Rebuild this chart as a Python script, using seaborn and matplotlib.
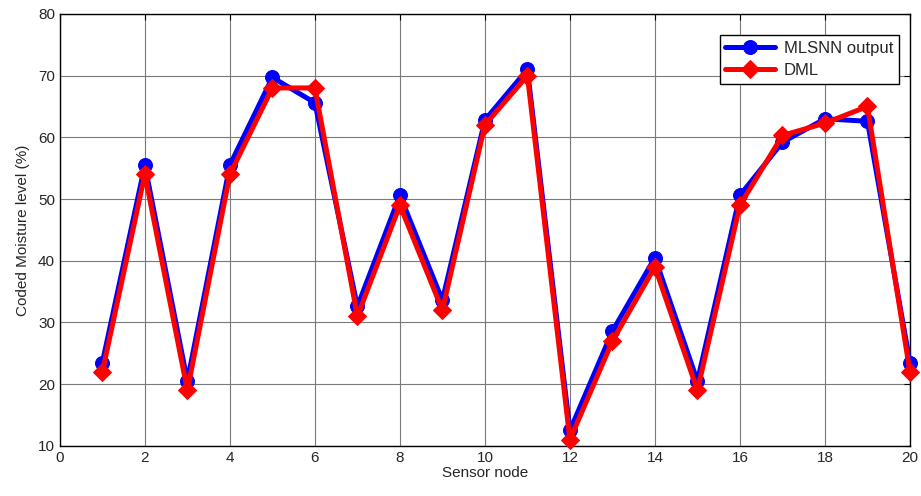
import numpy as np
import pandas as pd
import matplotlib
matplotlib.use("Agg")
import matplotlib.pyplot as plt
import seaborn as sns

nodes = list(range(1, 21))
mlsnn = [23.5, 55.5, 20.5, 55.5, 69.7, 65.6, 32.6, 50.6, 33.6, 62.8,
         71.0, 12.5, 28.6, 40.5, 20.5, 50.6, 59.2, 63.0, 62.6, 23.5]
dml = [22.0, 54.0, 19.0, 54.0, 68.0, 68.0, 31.0, 49.0, 32.0, 62.0,
       70.0, 11.0, 27.0, 39.0, 19.0, 49.0, 60.3, 62.3, 65.0, 22.0]
x_ticks = list(range(0, 21, 2))
y_ticks = list(range(10, 81, 10))

sns.set_style("white")
plt.rcParams['font.family'] = ['Liberation Sans', 'DejaVu Sans']

df = pd.DataFrame({"node": nodes, "MLSNN output": mlsnn, "DML": dml})

fig = plt.figure(figsize=(9.21, 4.96), dpi=100)
ax = fig.add_axes([0.065, 0.101, 0.923, 0.871])

sns.lineplot(data=df, x="node", y="MLSNN output", ax=ax, color="#0000ff",
             linewidth=3.6, marker="o", markersize=10, markeredgecolor="#0000ff",
             label="MLSNN output", clip_on=False, zorder=3)
sns.lineplot(data=df, x="node", y="DML", ax=ax, color="#ff0000",
             linewidth=3.6, marker="D", markersize=9, markeredgecolor="#ff0000",
             label="DML", clip_on=False, zorder=4)

ax.set_xlim(0, 20)
ax.set_ylim(10, 80)
ax.set_xticks(x_ticks)
ax.set_yticks(y_ticks)
ax.grid(True, color="#7a7a7a", linewidth=0.8)
ax.tick_params(direction="in", top=True, right=True, length=4, labelsize=11, color="black")
for s in ax.spines.values():
    s.set_color("black")
    s.set_linewidth(1.0)

ax.set_xlabel("Sensor node", fontsize=11, labelpad=1)
ax.set_ylabel("Coded Moisture level (%)", fontsize=11, labelpad=6)

leg = ax.legend(loc="upper right", bbox_to_anchor=(0.993, 0.962), fontsize=12,
                fancybox=False, framealpha=1, edgecolor="black",
                handlelength=3.0, handletextpad=0.5, borderpad=0.35,
                labelspacing=0.4, borderaxespad=0.3)
leg.get_frame().set_linewidth(1.0)
leg.set_zorder(10)

plt.savefig("out.png", dpi=100)
plt.close()
